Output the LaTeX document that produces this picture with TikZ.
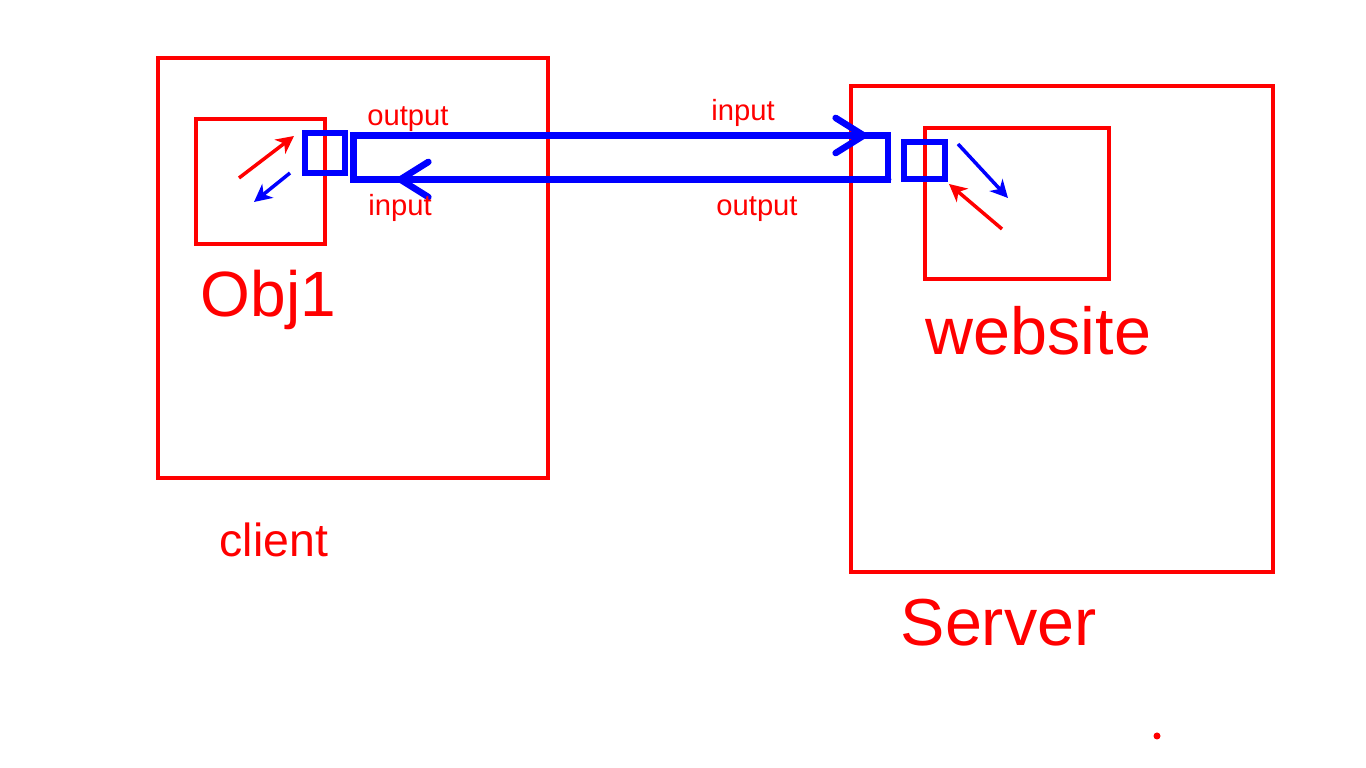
\documentclass[tikz,border=0pt]{standalone}
\usepackage{fontspec}
\setmainfont{Liberation Sans}
\usetikzlibrary{positioning,calc,arrows.meta}

\begin{document}
\begin{tikzpicture}[x=0.01cm,y=-0.01cm]
	\tikzset{
		bx/.style={draw=red, line width=0.04cm, inner sep=0pt, outer sep=0pt},
		sq/.style={draw=blue, line width=0.065cm, inner sep=0pt, outer sep=0pt},
		fl/.style={draw=blue, line width=0.065cm, line cap=round, -{Straight Barb[length=8pt,width=10pt,round]}},
		ar/.style={line width=0.035cm, -{Stealth[length=5pt,width=5pt,inset=1.5pt]}},
		big/.style={text=red, font=\fontsize{18.9}{21}\selectfont, inner sep=0pt, anchor=base west},
		w/.style={text=red, font=\fontsize{8.3}{10}\selectfont, inner sep=0pt, anchor=base}
	}
	\useasboundingbox (0,0) rectangle (1366,768);
	
	% boxes
	\node[bx, minimum width=3.9cm, minimum height=4.2cm] (client) at (353,268) {};
	\node[bx, minimum width=1.29cm, minimum height=1.25cm] (obj) at (260.5,181.5) {};
	\node[bx, minimum width=4.22cm, minimum height=4.86cm] (server) at (1062,329) {};
	\node[bx, minimum width=1.84cm, minimum height=1.51cm] (site) at (1017,203.5) {};
	
	% ports and pipe
	\node[sq, minimum width=0.40cm, minimum height=0.40cm] (pl) at (325,153) {};
	\node[sq, minimum width=0.41cm, minimum height=0.37cm] (pr) at (924.5,160.5) {};
	\node[sq, minimum width=5.345cm, minimum height=0.44cm] (pipe) at (620.75,157.5) {};
	
	\coordinate (tin) at (867,135.5);
	\coordinate (tout) at (397,179.5);
	\draw[fl] (pipe.north west) -- (tin);
	\draw[fl] (pipe.south east) -- (tout);
	
	% small arrows
	\coordinate (o1) at (239,178);
	\coordinate (o2) at (294,136);
	\coordinate (i1) at (290,173);
	\coordinate (i2) at (254,202);
	\coordinate (w1) at (958,144);
	\coordinate (w2) at (1008,198);
	\coordinate (w3) at (1002,229);
	\coordinate (w4) at (949,184);
	\draw[ar, red] (o1) -- (o2);
	\draw[ar, blue] (i1) -- (i2);
	\draw[ar, blue] (w1) -- (w2);
	\draw[ar, red] (w3) -- (w4);
	
	% labels
	\node[w] (lo1) at (408,126) {output};
	\node[w] (li1) at (400,216) {input};
	\node[w] (li2) at (743,121) {input};
	\node[w] (lo2) at (757,216) {output};
	\node[big, font=\fontsize{18.2}{20}\selectfont] (tobj) at (200,317) {Obj1};
	\node[big] (tsite) at (925,355) {website};
	\node[big, font=\fontsize{13.2}{15}\selectfont] (tcli) at (219,557) {client};
	\node[big] (tsrv) at (900,646) {Server};
	
	\fill[red] (1157,736) circle[radius=0.035cm];
\end{tikzpicture}
\end{document}
